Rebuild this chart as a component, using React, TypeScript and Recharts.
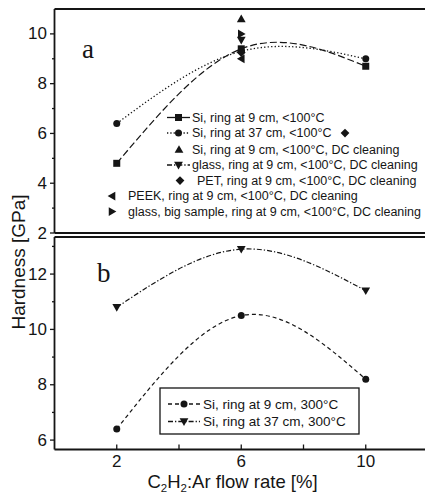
import { ComposedChart, Line, Scatter, XAxis, YAxis } from 'recharts';

const INK = '#151515';
const FONT = '"Liberation Sans", Arial, sans-serif';

// C2H2:Ar flow rate [%]
const flowRate = [2, 6, 10];
// panel a, <100°C
const si9Cold = [4.8, 9.4, 8.7];
const si37Cold = [6.4, 9.3, 9.0];
// panel b, 300°C
const si9Hot = [6.4, 10.5, 8.2];
const si37Hot = [10.8, 12.9, 11.4];

// single DC-cleaning samples, all at 6 %
const dcRate = 6;
const dcSi9 = 10.6;
const dcGlass = 9.75;
const dcPet = 9.25;
const dcPeek = 9.0;
const dcGlassBig = 10.0;

const xTicks = [2, 4, 6, 8, 10];
const xLabels = [2, 6, 10];
const topTicks = [2, 3, 4, 5, 6, 7, 8, 9, 10];
const topLabels = [2, 4, 6, 8, 10];
const botTicks = [6, 7, 8, 9, 10, 11, 12, 13];
const botLabels = [6, 8, 10, 12];

const coldData = flowRate.map((x, i) => ({ x, si9: si9Cold[i], si37: si37Cold[i] }));
const hotData = flowRate.map((x, i) => ({ x, si9: si9Hot[i], si37: si37Hot[i] }));

const AXIS_X = 54.5;

type Shape = 'square' | 'circle' | 'up' | 'down' | 'diamond' | 'left' | 'right';

function Marker({ cx, cy, shape, s = 3.5 }: { cx?: number; cy?: number; shape: Shape; s?: number }) {
  if (cx == null || cy == null) return null;
  const t = s * 1.25;
  switch (shape) {
    case 'square':
      return <rect x={cx - s} y={cy - s} width={2 * s} height={2 * s} fill={INK} />;
    case 'circle':
      return <circle cx={cx} cy={cy} r={s} fill={INK} />;
    case 'up':
      return <polygon points={`${cx},${cy - t} ${cx - t},${cy + t * 0.75} ${cx + t},${cy + t * 0.75}`} fill={INK} />;
    case 'down':
      return <polygon points={`${cx},${cy + t} ${cx - t},${cy - t * 0.75} ${cx + t},${cy - t * 0.75}`} fill={INK} />;
    case 'left':
      return <polygon points={`${cx - t},${cy} ${cx + t * 0.75},${cy - t} ${cx + t * 0.75},${cy + t}`} fill={INK} />;
    case 'right':
      return <polygon points={`${cx + t},${cy} ${cx - t * 0.75},${cy - t} ${cx - t * 0.75},${cy + t}`} fill={INK} />;
    case 'diamond':
      return <polygon points={`${cx},${cy - t} ${cx + t},${cy} ${cx},${cy + t} ${cx - t},${cy}`} fill={INK} />;
  }
  return null;
}

const dotOf = (shape: Shape) => (p: any) => <Marker key={`${shape}-${p.index}`} cx={p.cx} cy={p.cy} shape={shape} />;
const shapeOf = (shape: Shape) => (p: any) => <Marker cx={p.cx} cy={p.cy} shape={shape} />;

const tickStyle = { fontSize: 17, fill: INK, fontFamily: FONT };
const axisLine = { stroke: INK, strokeWidth: 1.8 };
const tickLine = { stroke: INK, strokeWidth: 1.3 };

// left axis: long ticks with a number, short ones without
const leftTick = (labels: number[]) => (p: any) => {
  const v = p.payload.value as number;
  const major = labels.includes(v);
  return (
    <g>
      <line x1={AXIS_X - (major ? 4.5 : 2.5)} x2={AXIS_X} y1={p.y} y2={p.y} stroke={INK} strokeWidth={1.3} />
      {major && (
        <text x={AXIS_X - 7.5} y={p.y} textAnchor="end" dominantBaseline="central" {...tickStyle}>{v}</text>
      )}
    </g>
  );
};

function Frame({ ticks, labels, domain, showX }: { ticks: number[]; labels: number[]; domain: [number, number]; showX: boolean }) {
  return [
    <XAxis key="xb" xAxisId="x" type="number" dataKey="x" domain={[0, 12]} ticks={xTicks} allowDataOverflow
      height={1} axisLine={axisLine} tickLine={tickLine} tickSize={-5} tickMargin={showX ? 10.5 : 0}
      tick={showX ? tickStyle : false} interval={0}
      tickFormatter={(v: number) => (xLabels.includes(v) ? String(v) : '')} />,
    <XAxis key="xt" xAxisId="top" orientation="top" type="number" domain={[0, 12]} ticks={xTicks} allowDataOverflow
      height={1} axisLine={axisLine} tickLine={tickLine} tickSize={-5} tick={false} />,
    <YAxis key="yl" yAxisId="y" type="number" domain={domain} ticks={ticks} allowDataOverflow width={1}
      axisLine={axisLine} tickLine={false} tick={leftTick(labels)} interval={0} />,
    <YAxis key="yr" yAxisId="yr" orientation="right" type="number" domain={domain} ticks={ticks}
      allowDataOverflow width={1} axisLine={axisLine} tickLine={tickLine} tickSize={-4} tick={false} interval={0} />,
  ];
}

function TopLegend() {
  const rows: { label: string; shape: Shape; dash?: string; tx: number; sx: number }[] = [
    { label: 'Si, ring at 9 cm, <100°C', shape: 'square', dash: '', tx: 192, sx: 178.5 },
    { label: 'Si, ring at 37 cm, <100°C', shape: 'circle', dash: '1.3 2', tx: 192, sx: 178.5 },
    { label: 'Si, ring at 9 cm, <100°C, DC cleaning', shape: 'up', tx: 192, sx: 179 },
    { label: 'glass, ring at 9 cm, <100°C, DC cleaning', shape: 'down', dash: '5 2 1.3 2', tx: 192, sx: 178.5 },
    { label: 'PET, ring at 9 cm, <100°C, DC cleaning', shape: 'diamond', tx: 197, sx: 180 },
    { label: 'PEEK, ring at 9 cm, <100°C, DC cleaning', shape: 'left', tx: 128, sx: 112 },
    { label: 'glass, big sample, ring at 9 cm, <100°C, DC cleaning', shape: 'right', tx: 128, sx: 112 },
  ];
  const rowY = [117.5, 133, 149.5, 165, 180.5, 196, 211.5];
  return (
    <g fontFamily={FONT} fontSize={12.5} fill={INK}>
      {rows.map((r, i) => (
        <g key={i}>
          {r.dash !== undefined && (
            <line x1={167} x2={190} y1={rowY[i]} y2={rowY[i]} stroke={INK} strokeWidth={1.3} strokeDasharray={r.dash || undefined} />
          )}
          <Marker cx={r.sx} cy={rowY[i]} shape={r.shape} />
          <text x={r.tx} y={rowY[i]} dominantBaseline="central">{r.label}</text>
        </g>
      ))}
      <Marker cx={345} cy={rowY[1]} shape="diamond" />
    </g>
  );
}

function BottomLegend() {
  const rows: { label: string; shape: Shape; dash: string }[] = [
    { label: 'Si, ring at 9 cm, 300°C', shape: 'circle', dash: '4 3' },
    { label: 'Si, ring at 37 cm, 300°C', shape: 'down', dash: '5 2 1.3 2' },
  ];
  const rowY = [404, 421.5];
  return (
    <g fontFamily={FONT} fontSize={13.5} fill={INK}>
      <rect x={160} y={388} width={199} height={46} fill="#fff" stroke={INK} strokeWidth={1.3} />
      {rows.map((r, i) => (
        <g key={i}>
          <line x1={168} x2={200} y1={rowY[i]} y2={rowY[i]} stroke={INK} strokeWidth={1.3} strokeDasharray={r.dash} />
          <Marker cx={184} cy={rowY[i]} shape={r.shape} />
          <text x={203} y={rowY[i]} dominantBaseline="central">{r.label}</text>
        </g>
      ))}
    </g>
  );
}

export default function App() {
  return (
    <div style={{ position: 'absolute', left: 0, top: 0, width: 425, height: 495, overflow: 'hidden', background: '#fff' }}>
      <div style={{ position: 'absolute', left: 0, top: 0 }}>
        <ComposedChart width={440} height={240} data={coldData} margin={{ top: 8, right: 11, bottom: 6, left: 53.5 }}>
          {Frame({ ticks: topTicks, labels: topLabels, domain: [2, 11], showX: false })}
          <Line xAxisId="x" yAxisId="y" type="natural" dataKey="si9" stroke={INK} strokeWidth={1.2}
            strokeDasharray="7 3" dot={dotOf('square')} isAnimationActive={false} />
          <Line xAxisId="x" yAxisId="y" type="natural" dataKey="si37" stroke={INK} strokeWidth={1.3}
            strokeDasharray="1.3 2.2" dot={dotOf('circle')} isAnimationActive={false} />
          <Scatter xAxisId="x" yAxisId="y" data={[{ x: dcRate, h: dcSi9 }]} dataKey="h" shape={shapeOf('up')} isAnimationActive={false} />
          <Scatter xAxisId="x" yAxisId="y" data={[{ x: dcRate, h: dcGlassBig }]} dataKey="h" shape={shapeOf('right')} isAnimationActive={false} />
          <Scatter xAxisId="x" yAxisId="y" data={[{ x: dcRate, h: dcGlass }]} dataKey="h" shape={shapeOf('down')} isAnimationActive={false} />
          <Scatter xAxisId="x" yAxisId="y" data={[{ x: dcRate, h: dcPet }]} dataKey="h" shape={shapeOf('diamond')} isAnimationActive={false} />
          <Scatter xAxisId="x" yAxisId="y" data={[{ x: dcRate, h: dcPeek }]} dataKey="h" shape={shapeOf('left')} isAnimationActive={false} />
        </ComposedChart>
      </div>
      <div style={{ position: 'absolute', left: 0, top: 230 }}>
        <ComposedChart width={440} height={265} data={hotData} margin={{ top: 6, right: 11, bottom: 44.5, left: 53.5 }}>
          {Frame({ ticks: botTicks, labels: botLabels, domain: [5.66, 13.34], showX: true })}
          <Line xAxisId="x" yAxisId="y" type="natural" dataKey="si9" stroke={INK} strokeWidth={1.2}
            strokeDasharray="4 3" dot={dotOf('circle')} isAnimationActive={false} />
          <Line xAxisId="x" yAxisId="y" type="natural" dataKey="si37" stroke={INK} strokeWidth={1.2}
            strokeDasharray="5 2 1.3 2" dot={dotOf('down')} isAnimationActive={false} />
        </ComposedChart>
      </div>
      <svg width={425} height={495} style={{ position: 'absolute', left: 0, top: 0, pointerEvents: 'none' }}>
        <TopLegend />
        <BottomLegend />
        <text x={82} y={58} fontFamily='"Liberation Serif", "Times New Roman", serif' fontSize={27} fill={INK}>a</text>
        <text x={97} y={282} fontFamily='"Liberation Serif", "Times New Roman", serif' fontSize={27} fill={INK}>b</text>
        <text transform="translate(18,262) rotate(-90)" textAnchor="middle" dominantBaseline="central"
          fontFamily={FONT} fontSize={19} fill={INK}>Hardness [GPa]</text>
        <text x={232.5} y={488} textAnchor="middle" fontFamily={FONT} fontSize={18.5} fill={INK}>
          C<tspan fontSize={11.5} dy={3.5}>2</tspan><tspan dy={-3.5}>H</tspan><tspan fontSize={11.5} dy={3.5}>2</tspan>
          <tspan dy={-3.5}>:Ar flow rate [%]</tspan>
        </text>
      </svg>
    </div>
  );
}
